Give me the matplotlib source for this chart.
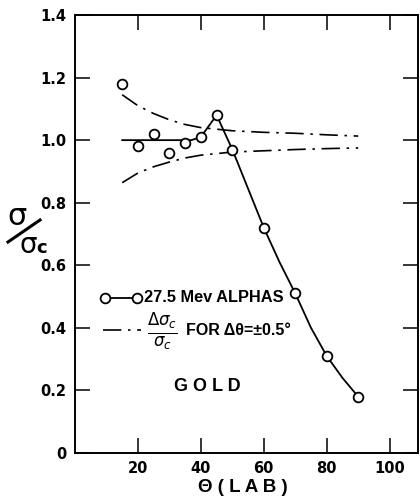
import matplotlib
matplotlib.use("Agg")
import matplotlib.pyplot as plt
from matplotlib.lines import Line2D

plt.rcParams['font.family'] = ['DejaVu Sans']
plt.rcParams['mathtext.fontset'] = 'dejavusans'

# measured points, 27.5 Mev alphas on gold
theta = [15, 20, 25, 30, 35, 40, 45, 50, 60, 70, 80, 90]
ratio = [1.18, 0.98, 1.02, 0.96, 0.99, 1.01, 1.08, 0.97, 0.72, 0.51, 0.31, 0.18]

# hand-drawn solid curve through the points
curve_theta = [15, 37, 40, 45, 50, 60, 65, 70, 75, 80, 85, 90]
curve_val = [1.00, 1.00, 1.01, 1.08, 0.97, 0.72, 0.61, 0.51, 0.40, 0.31, 0.24, 0.18]

# dash-dot envelope: d(sigma_c)/sigma_c for d(theta) = +-0.5 deg
band_theta = [15, 20, 25, 30, 35, 40, 45, 50, 60, 70, 80, 90]
band_upper = [1.145, 1.11, 1.085, 1.065, 1.05, 1.04, 1.035, 1.03, 1.025, 1.022, 1.017, 1.013]
band_lower = [0.864, 0.895, 0.915, 0.93, 0.943, 0.952, 0.957, 0.962, 0.966, 0.970, 0.973, 0.975]

x_ticks = [20, 40, 60, 80, 100]
y_ticks = [0, 0.2, 0.4, 0.6, 0.8, 1.0, 1.2, 1.4]
y_labels = ["0", "0.2", "0.4", "0.6", "0.8", "1.0", "1.2", "1.4"]

LAB = "Liberation Sans"

W, H = 420, 501
fig = plt.figure(figsize=(4.2, 5.01), dpi=100)
ax = fig.add_axes([75 / W, 1 - 453 / H, 343 / W, 438 / H])

dashdot = (0, (11, 4, 1.5, 4))
ax.plot(curve_theta, curve_val, color="black", lw=1.3)
ax.plot(band_theta, band_upper, color="black", lw=1.2, linestyle=dashdot)
ax.plot(band_theta, band_lower, color="black", lw=1.2, linestyle=dashdot)
ax.plot(theta, ratio, linestyle="none", marker="o", ms=7, mfc="white",
        mec="black", mew=1.3, zorder=5)

ax.set_xlim(0, 109)
ax.set_ylim(0, 1.4)
ax.set_xticks(x_ticks)
ax.set_xticklabels([str(t) for t in x_ticks])
ax.set_yticks(y_ticks)
ax.set_yticklabels(y_labels)
ax.tick_params(direction="in", length=11, width=1.1, top=True, right=True,
               labelsize=10.5, pad=6)
for lab in ax.get_xticklabels() + ax.get_yticklabels():
    lab.set_fontweight("bold")
for sp in ax.spines.values():
    sp.set_linewidth(1.4)

# legend drawn by hand
ax.plot([9.6, 19.6], [0.496, 0.496], color="black", lw=1.3, marker="o", ms=7,
        mfc="white", mec="black", mew=1.3)
ax.text(21.8, 0.496, "27.5 Mev ALPHAS", fontsize=11.8, fontweight="bold",
        family=LAB, va="center", ha="left")
ax.plot([8.8, 21], [0.393, 0.393], color="black", lw=1.2, linestyle=dashdot)
ax.text(23.0, 0.387, r"$\frac{\Delta\sigma_c}{\sigma_c}$", fontsize=17,
        va="center", ha="left")
ax.text(35.2, 0.393, "FOR \u0394\u03b8=\u00b10.5\u00b0", fontsize=11.5,
        fontweight="bold", family=LAB, va="center", ha="left")
ax.text(42, 0.214, "G O L D", fontsize=13, fontweight="bold", family=LAB,
        va="center", ha="center")

# y label sigma / sigma_c
fig.text(17 / W, 1 - 216 / H, "\u03c3", fontsize=22, ha="center", va="center")
fig.add_artist(Line2D([8 / W, 40 / W], [1 - 242 / H, 1 - 220 / H],
                      color="black", lw=2.2))
fig.text(28.5 / W, 1 - 245 / H, "\u03c3", fontsize=20, ha="center", va="center")
fig.text(42 / W, 1 - 248 / H, "c", fontsize=13, fontweight="bold",
         ha="center", va="center")

fig.text(243 / W, 1 - 488 / H, "\u0398 ( L A B )", fontsize=13.5,
         fontweight="bold", family=LAB, ha="center", va="center")

fig.savefig("out.png", dpi=100)
